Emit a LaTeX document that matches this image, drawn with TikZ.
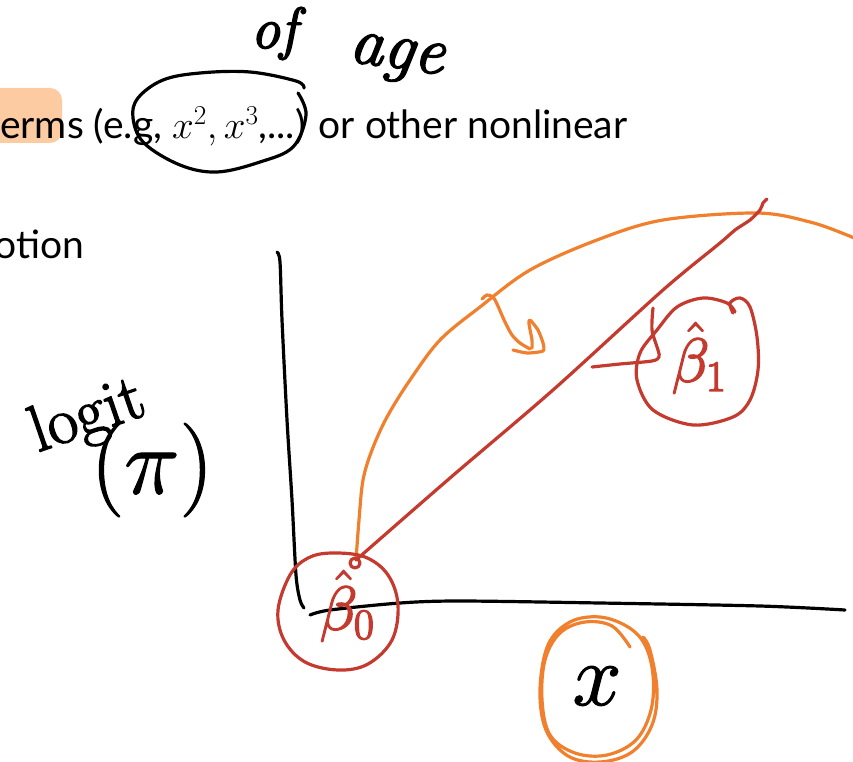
\RequirePackage{fix-cm}
\documentclass[tikz,border=0pt]{standalone}
\usepackage{fontspec}
\newfontfamily\lato{Lato}
\definecolor{hred}{HTML}{C43A2F}
\definecolor{horange}{HTML}{F0802E}
\definecolor{hl}{HTML}{FDCBA2}
\newcommand\handink[2]{\special{pdf:literal direct 2 Tr #1 w 1 j 1 J}#2\special{pdf:literal direct 0 Tr}}
\begin{document}
\begin{tikzpicture}[x=1pt,y=-1pt,
  ink/.style={line width=3.2pt, line cap=round, line join=round},
  blk/.style={ink, black},
  rd/.style={ink, hred},
  og/.style={ink, horange},
  slide/.style={anchor=base west, inner sep=0pt, font=\lato\fontsize{39}{47}\selectfont},
  hand/.style={inner sep=0pt}]
\useasboundingbox (0,0) rectangle (853,762);
% slide content
\fill[hl, rounded corners=12pt] (-14,88) rectangle (62,143);
\node[slide] (line1) at (0,139) {erms (e.g, $x^2, x^3$,...) or other nonlinear};
\node[slide] (line2) at (-6,258) {otion};
% handwritten "of age"
\node[hand, font=\fontsize{58}{60}\selectfont\itshape, anchor=base] (of) at (274,48) {\handink{1.6}{of}};
\node[hand, font=\fontsize{68}{70}\selectfont\itshape, anchor=base, rotate=-8] (age) at (395,68) {\handink{1.6}{age}};
% circle around x^2, x^3
\draw[blk] plot[smooth, tension=0.6] coordinates {(304,88) (296,81) (250,72) (200,73) (163,80) (138,98) (133,118) (144,143) (180,165) (217,172) (260,162) (293,147) (306,115) (298,93)};
% logit(pi)
\node[hand, font=\fontsize{66}{68}\selectfont, rotate=19] (logit) at (88,418) {\handink{1.4}{logit}};
\node[hand, font=\fontsize{94}{96}\selectfont] (pi) at (152,470) {\handink{1.2}{$(\pi)$}};
% axes
\draw[blk] plot[smooth, tension=0.5] coordinates {(277,252) (280,262) (282,320) (287,420) (292,500) (296,575) (300,600) (304,608)};
\draw[blk] plot[smooth, tension=0.5] coordinates {(310,615) (330,610) (400,603) (460,601) (600,603) (760,606) (845,610)};
% orange curve
\draw[og] plot[smooth, tension=0.55] coordinates {(356,560) (359,520) (363,480) (372,450) (387,417) (410,380) (440,340) (480,307) (530,270) (597,240) (663,220) (757,213) (810,222) (847,235) (853,238)};
% orange arrow
\draw[og] plot[smooth, tension=0.5] coordinates {(482,299) (487,295) (493,297) (497,304) (505,322) (512,335) (520,343) (530,349)};
\draw[og] plot[smooth, tension=0.4] coordinates {(513,350) (527,353) (543,351) (543,343) (538,330) (530,320) (529,324) (532,340) (532,348)};
% red line
\draw[rd] plot[smooth, tension=0.5] coordinates {(356,560) (450,478) (553,390) (663,290) (720,243) (735,230) (750,220) (760,210) (763,203) (767,199)};
% beta_0 circle
\draw[rd] (355,563) circle[radius=5];
\draw[rd] plot[smooth cycle, tension=0.6] coordinates {(332,553) (365,557) (388,575) (398,605) (392,640) (368,664) (338,670) (305,662) (284,640) (278,610) (290,575) (308,558)};
\node[hand, text=hred, font=\fontsize{62}{64}\selectfont] (b0) at (347,606) {\handink{1.5}{$\hat{\beta}_{0}$}};
% beta_1 circle
\draw[rd] plot[smooth, tension=0.55] coordinates {(733,313) (730,303) (740,298) (750,307) (757,337) (758,370) (750,400) (733,417) (693,425) (653,410) (637,380) (640,353) (657,330) (677,307) (703,298) (727,303) (735,312)};
\draw[rd] plot[smooth, tension=0.5] coordinates {(653,308) (652,330) (658,350) (659,357) (652,361) (620,364) (592,367)};
\node[hand, text=hred, font=\fontsize{62}{64}\selectfont] (b1) at (699,358) {\handink{1.5}{$\hat{\beta}_{1}$}};
% x circled
\draw[og] plot[smooth, tension=0.6] coordinates {(630,647) (612,626) (585,622) (560,633) (545,660) (542,700) (550,735) (575,753) (607,755) (636,740) (651,710) (653,675) (645,645) (628,627) (600,617) (570,622) (548,645) (540,690) (546,730) (568,756) (600,762) (632,752) (652,725) (657,690) (650,650) (643,637)};
\node[hand, font=\fontsize{88}{90}\selectfont] (xv) at (597,686) {\handink{1.2}{$x$}};
\end{tikzpicture}
\end{document}
